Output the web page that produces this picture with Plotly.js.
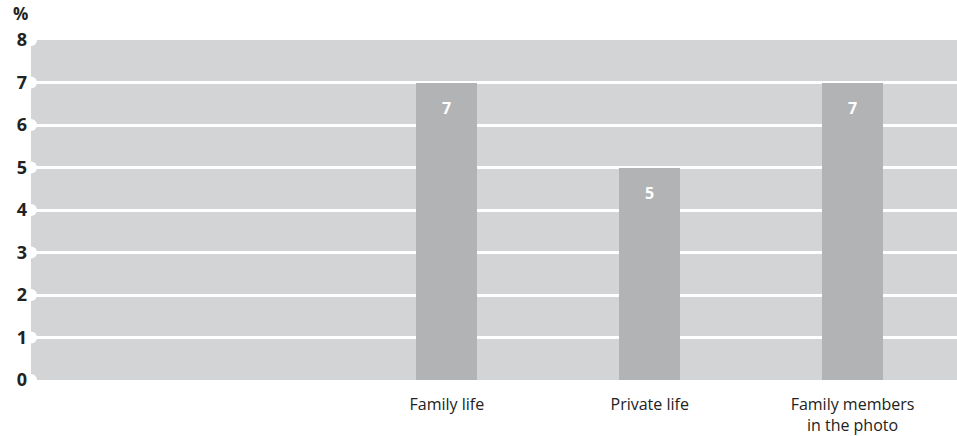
<!DOCTYPE html>
<html>
<head>
<meta charset="utf-8">
<script src="https://cdn.plot.ly/plotly-3.0.1.min.js"></script>
<style>html,body{margin:0;padding:0;background:#fff;}#chart{width:957px;height:436px;}</style>
</head>
<body>
<div id="chart"></div>
<script>
const categories = ["Family life", "Private life", "Family members<br>in the photo"];
const values = [7, 5, 7];
const tickValues = [0, 1, 2, 3, 4, 5, 6, 7, 8];
const tickLabels = ["0", "1", "2", "3", "4", "5", "6", "7", "8"];

const xRange = [-2.05, 2.515];
const font = "'Open Sans', 'Noto Sans', sans-serif";

const bars = {
  type: "bar",
  x: categories,
  y: values,
  width: 0.3,
  marker: { color: "#b2b3b5" },
  hoverinfo: "skip"
};

const notches = {
  type: "scatter",
  mode: "markers",
  x: tickValues.map(() => xRange[0]),
  y: tickValues,
  xaxis: "x2",
  marker: { color: "#ffffff", size: 12, line: { width: 0 } },
  hoverinfo: "skip",
  cliponaxis: false
};

const annotations = values.map((v, i) => ({
  x: categories[i], y: v, xref: "x", yref: "y",
  text: "<b>" + v + "</b>", showarrow: false,
  yanchor: "middle", yshift: -25,
  font: { family: font, size: 16, color: "#ffffff" }
}));
annotations.push({
  xref: "paper", yref: "paper", x: 0.0, y: 1.0, xanchor: "right", yanchor: "bottom",
  yshift: 13, xshift: -1, text: "<b>%</b>", showarrow: false,
  font: { family: font, size: 17, color: "#222222" }
});

const layout = {
  width: 957, height: 436,
  margin: { l: 31, r: 0, t: 40, b: 56 },
  paper_bgcolor: "#ffffff",
  plot_bgcolor: "#d3d4d6",
  showlegend: false,
  bargap: 0,
  xaxis: {
    type: "category",
    range: xRange,
    showgrid: false, zeroline: false, showline: false,
    ticks: "", ticklabelstandoff: 13,
    tickfont: { family: font, size: 16, color: "#222222" },
    fixedrange: true
  },
  xaxis2: {
    overlaying: "x", range: xRange, visible: false, fixedrange: true
  },
  yaxis: {
    range: [0, 8],
    tickvals: tickValues,
    ticktext: tickLabels.map(t => "<b>" + t + "</b>"),
    showgrid: true, gridcolor: "#ffffff", gridwidth: 3,
    zeroline: false, showline: false,
    ticks: "", ticklabelstandoff: 3,
    tickfont: { family: font, size: 18, color: "#222222" },
    fixedrange: true
  },
  annotations: annotations
};

Plotly.newPlot("chart", [bars, notches], layout, { displayModeBar: false, staticPlot: true });
</script>
</body>
</html>
